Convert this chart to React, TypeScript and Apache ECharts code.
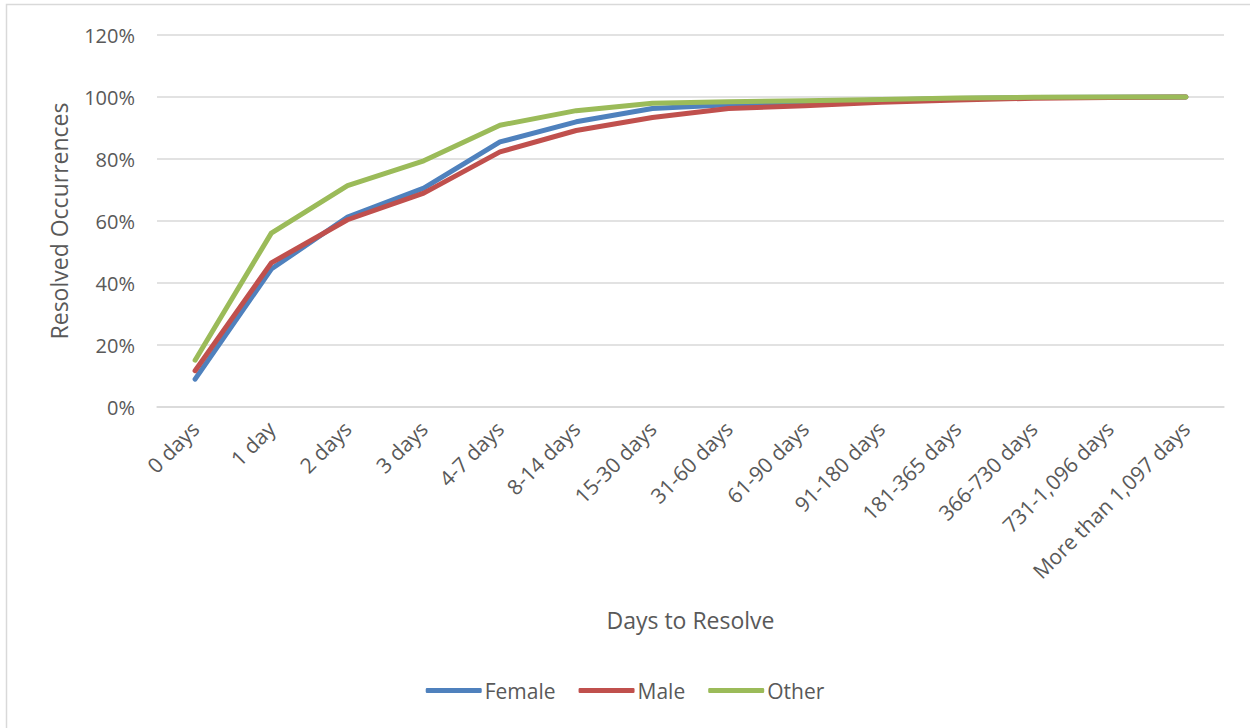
import React, { useEffect, useRef } from "react";
import * as echarts from "echarts";

const categories = [
  "0 days",
  "1 day",
  "2 days",
  "3 days",
  "4-7 days",
  "8-14 days",
  "15-30 days",
  "31-60 days",
  "61-90 days",
  "91-180 days",
  "181-365 days",
  "366-730 days",
  "731-1,096 days",
  "More than 1,097 days",
];

// Cumulative share of resolved occurrences (%)
const female = [9.0, 44.5, 61.3, 70.6, 85.5, 92.0, 96.3, 97.5, 98.3, 99.0, 99.5, 99.8, 99.9, 100];
const male = [11.7, 46.5, 60.4, 69.0, 82.3, 89.2, 93.4, 96.3, 97.2, 98.3, 99.0, 99.6, 99.8, 100];
const other = [15.1, 56.1, 71.4, 79.4, 90.9, 95.6, 98.0, 98.5, 98.8, 99.2, 99.7, 99.9, 100, 100];

const yTicks = { min: 0, max: 120, interval: 20 };

const FONT = "'Open Sans', 'Noto Sans', sans-serif";
const TEXT = "#595959";

export default function App() {
  const ref = useRef<HTMLDivElement>(null);

  useEffect(() => {
    if (!ref.current) return;
    const chart = echarts.init(ref.current, undefined, { renderer: "svg" });
    const lineSeries = (name: string, data: number[], color: string) => ({
      name,
      type: "line",
      data,
      showSymbol: false,
      symbol: "none",
      lineStyle: { color, width: 5, cap: "round", join: "round" },
      itemStyle: { color },
    });
    chart.setOption({
      animation: false,
      backgroundColor: "#ffffff",
      textStyle: { fontFamily: FONT },
      graphic: [
        {
          type: "rect",
          shape: { x: 6.5, y: 4.5, width: 1300, height: 800 },
          style: { fill: "none", stroke: "#d9d9d9", lineWidth: 1.5 },
          silent: true,
        },
      ],
      grid: { left: 157, right: 26, top: 35, bottom: 321, containLabel: false },
      legend: {
        top: 675,
        left: "center",
        icon: "roundRect",
        itemWidth: 56,
        itemHeight: 5,
        itemGap: 23,
        textStyle: { color: TEXT, fontSize: 21, fontFamily: FONT, padding: [0, 0, 0, -2] },
        data: ["Female", "Male", "Other"],
      },
      xAxis: {
        type: "category",
        data: categories,
        boundaryGap: true,
        name: "Days to Resolve",
        nameLocation: "middle",
        nameGap: 201,
        nameTextStyle: { color: TEXT, fontSize: 23, fontFamily: FONT },
        axisLine: { lineStyle: { color: "#d9d9d9", width: 1.5 } },
        axisTick: { show: false },
        axisLabel: {
          rotate: 45,
          margin: 18,
          color: TEXT,
          fontSize: 21,
          fontFamily: FONT,
          interval: 0,
        },
      },
      yAxis: {
        type: "value",
        min: yTicks.min,
        max: yTicks.max,
        interval: yTicks.interval,
        name: "Resolved Occurrences",
        nameLocation: "middle",
        nameGap: 87,
        nameTextStyle: { color: TEXT, fontSize: 23, fontFamily: FONT },
        axisLine: { show: false },
        axisTick: { show: false },
        splitLine: { lineStyle: { color: "#d9d9d9", width: 1.5 } },
        axisLabel: {
          formatter: "{value}%",
          color: TEXT,
          fontSize: 20,
          fontFamily: FONT,
          margin: 22,
        },
      },
      series: [
        lineSeries("Female", female, "#4f81bd"),
        lineSeries("Male", male, "#c0504d"),
        lineSeries("Other", other, "#9bbb59"),
      ],
    });
    return () => chart.dispose();
  }, []);

  return (
    <div
      ref={ref}
      style={{ position: "absolute", left: 0, top: 0, width: 1250, height: 728 }}
    />
  );
}
